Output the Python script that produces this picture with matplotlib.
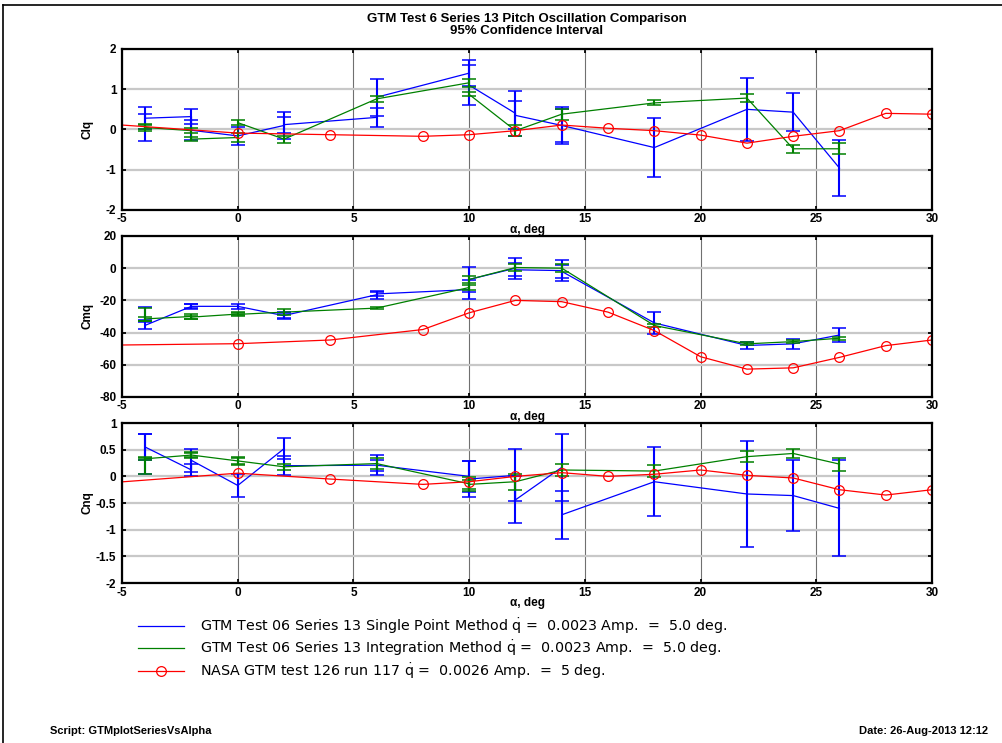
import matplotlib
matplotlib.use('Agg')
import matplotlib.pyplot as plt
from matplotlib.lines import Line2D

plt.rcParams['font.family'] = ['Liberation Sans', 'DejaVu Sans']
plt.rcParams['mathtext.default'] = 'regular'
plt.rcParams['axes.unicode_minus'] = False

# single point method (repeat runs share an alpha)
alpha_sp = [-4, -4, -2, -2, 0, 2, 2, 6, 6, 10, 10, 12, 12, 14, 14, 18, 22, 24, 26]
clq_sp = [0.05, 0.28, 0.32, -0.02, -0.16, 0.10, 0.12, 0.30, 0.80, 1.40, 1.10, 0.40, 0.35, 0.10, 0.10, -0.45, 0.50, 0.43, -0.96]
clq_sp_err = [0.33, 0.27, 0.19, 0.25, 0.22, 0.33, 0.20, 0.23, 0.46, 0.33, 0.50, 0.55, 0.35, 0.45, 0.42, 0.73, 0.79, 0.48, 0.69]
cmq_sp = [-28, -35.5, -23.7, -23.7, -23.7, -29.5, -29.4, -16.5, -16, -13.3, -7, 0, -1, -1.5, -2, -34, -48, -47, -41.5]
cmq_sp_err = [4, 2, 1.6, 1.2, 1.6, 2, 1.5, 2.4, 1.5, 5.7, 7.5, 6.5, 4, 6.3, 4, 6.8, 2.3, 3, 4.4]
cnq_sp = [0.42, 0.55, 0.12, 0.30, -0.17, 0.52, 0.20, 0.21, 0.21, 0.00, -0.05, 0.02, -0.44, 0.17, -0.72, -0.10, -0.33, -0.36, -0.60]
cnq_sp_err = [0.38, 0.25, 0.12, 0.22, 0.22, 0.20, 0.18, 0.19, 0.10, 0.29, 0.34, 0.49, 0.44, 0.63, 0.45, 0.65, 0.99, 0.67, 0.90]

# integration method
alpha_im = [-4, -4, -2, -2, 0, 0, 2, 6, 10, 10, 12, 14, 18, 22, 24, 26]
clq_im = [0.05, 0.05, -0.03, -0.24, -0.20, 0.17, -0.24, 0.76, 1.16, 0.87, -0.03, 0.38, 0.66, 0.78, -0.48, -0.48]
clq_im_err = [0.08, 0.05, 0.06, 0.05, 0.10, 0.07, 0.09, 0.07, 0.10, 0.05, 0.13, 0.14, 0.06, 0.09, 0.10, 0.14]
cmq_im = [-29, -31.5, -30, -30.4, -28.5, -28.7, -27.3, -24.8, -12, -7, 0.4, 0, -35.6, -47, -45.6, -43.5]
cmq_im_err = [4, 1, 1.6, 1, 1, 0.6, 1.8, 0.5, 1.5, 2, 2, 2.5, 1, 1, 1, 1]
cnq_im = [0.20, 0.33, 0.40, 0.40, 0.29, 0.29, 0.18, 0.24, -0.14, -0.15, -0.10, 0.12, 0.10, 0.37, 0.43, 0.23]
cnq_im_err = [0.15, 0.03, 0.06, 0.04, 0.08, 0.05, 0.06, 0.10, 0.13, 0.08, 0.15, 0.12, 0.12, 0.10, 0.08, 0.12]

# NASA test 126 run 117
alpha_nasa = [-8, 0, 4, 8, 10, 12, 14, 16, 18, 20, 22, 24, 26, 28, 30]
clq_nasa = [0.23, -0.09, -0.13, -0.17, -0.13, -0.03, 0.11, 0.03, -0.03, -0.14, -0.34, -0.17, -0.03, 0.40, 0.38]
cmq_nasa = [-48.2, -46.9, -44.6, -38.1, -27.7, -20, -20.8, -27.3, -38.75, -55, -62.7, -61.9, -55.4, -48.1, -44.6]
cnq_nasa = [-0.20, 0.06, -0.05, -0.15, -0.10, 0.00, 0.07, 0.00, 0.04, 0.12, 0.02, -0.03, -0.25, -0.35, -0.25]

labels = ['GTM Test 06 Series 13 Single Point Method $\\dot{q}$ =  0.0023 Amp.  =  5.0 deg.',
          'GTM Test 06 Series 13 Integration Method $\\dot{q}$ =  0.0023 Amp.  =  5.0 deg.',
          'NASA GTM test 126 run 117 $\\dot{q}$ =  0.0026 Amp.  =  5 deg.']

panels = [
    ('Clq', clq_sp, clq_sp_err, clq_im, clq_im_err, clq_nasa, (-2, 2), [-2, -1, 0, 1, 2]),
    ('Cmq', cmq_sp, cmq_sp_err, cmq_im, cmq_im_err, cmq_nasa, (-80, 20), [-80, -60, -40, -20, 0, 20]),
    ('Cnq', cnq_sp, cnq_sp_err, cnq_im, cnq_im_err, cnq_nasa, (-2, 1), [-2, -1.5, -1, -0.5, 0, 0.5, 1]),
]
positions = [(0.1218, 0.7174, 0.8084, 0.2167),
             (0.1218, 0.4657, 0.8084, 0.2167),
             (0.1218, 0.2153, 0.8084, 0.2153)]

blue = '#0000ff'
green = '#008000'
red = '#ff0000'

fig = plt.figure(figsize=(10.02, 7.43), dpi=100)

for (name, sp, sp_err, im, im_err, nasa, ylim, yticks), pos in zip(panels, positions):
    ax = fig.add_axes(pos)
    ax.patch.set_alpha(0)
    h1, = ax.plot(alpha_sp, sp, color=blue, lw=0.9)
    ax.errorbar(alpha_sp, sp, yerr=sp_err, fmt='none', ecolor=blue, elinewidth=1.5, capsize=4.8, capthick=1.1)
    h2, = ax.plot(alpha_im, im, color=green, lw=0.9)
    ax.errorbar(alpha_im, im, yerr=im_err, fmt='none', ecolor=green, elinewidth=1.5, capsize=4.8, capthick=1.1)
    h3, = ax.plot(alpha_nasa, nasa, color=red, lw=0.9, marker='o', ms=7, mfc='none', mec=red, mew=0.9)
    ax.set_xlim(-5, 30)
    ax.set_ylim(*ylim)
    ax.set_xticks(range(-5, 31, 5))
    ax.set_yticks(yticks)
    ax.set_yticklabels([('%g' % t) for t in yticks])
    ax.xaxis.grid(True, color='#707070', lw=0.8)
    ax.yaxis.grid(True, color='#c8c8c8', lw=1.6)
    ax.set_axisbelow(True)
    ax.tick_params(direction='in', top=True, right=True, length=3, width=1.3, labelsize=8.5)
    ax.tick_params(axis='x', pad=2.5)
    ax.tick_params(axis='y', pad=4)
    for lab in ax.get_xticklabels() + ax.get_yticklabels():
        lab.set_fontweight('bold')
    for s in ax.spines.values():
        s.set_linewidth(1.6)
    ax.set_xlabel('α, deg', fontweight='bold', fontsize=8.5, labelpad=-1)
    ax.set_ylabel(name, fontweight='bold', fontsize=8.5)
    ax.yaxis.set_label_coords(-0.035, 0.5)

fig.text(527 / 1002, 1 - 25 / 743, 'GTM Test 6 Series 13 Pitch Oscillation Comparison\n95% Confidence Interval',
         ha='center', va='center', fontsize=9.5, fontweight='bold', linespacing=1.05)

fig.legend([h1, h2, h3], labels, loc='upper left', bbox_to_anchor=(138 / 1002, 1 - 616 / 743),
           frameon=False, handlelength=3.2, handletextpad=1.1, labelspacing=0.2,
           borderpad=0, borderaxespad=0, prop={'family': ['DejaVu Sans'], 'size': 10.3})

fig.text(50 / 1002, 1 - 731 / 743, 'Script: GTMplotSeriesVsAlpha', fontsize=8, fontweight='bold', va='center')
fig.text(988 / 1002, 1 - 731 / 743, 'Date: 26-Aug-2013 12:12', fontsize=8, fontweight='bold', va='center', ha='right')

# page frame
fig.add_artist(Line2D([3 / 1002, 3 / 1002], [0, 1 - 5 / 743], transform=fig.transFigure, color='k', lw=1.2))
fig.add_artist(Line2D([3 / 1002, 1], [1 - 5 / 743, 1 - 5 / 743], transform=fig.transFigure, color='k', lw=1.2))

fig.savefig('out.png', dpi=100)
